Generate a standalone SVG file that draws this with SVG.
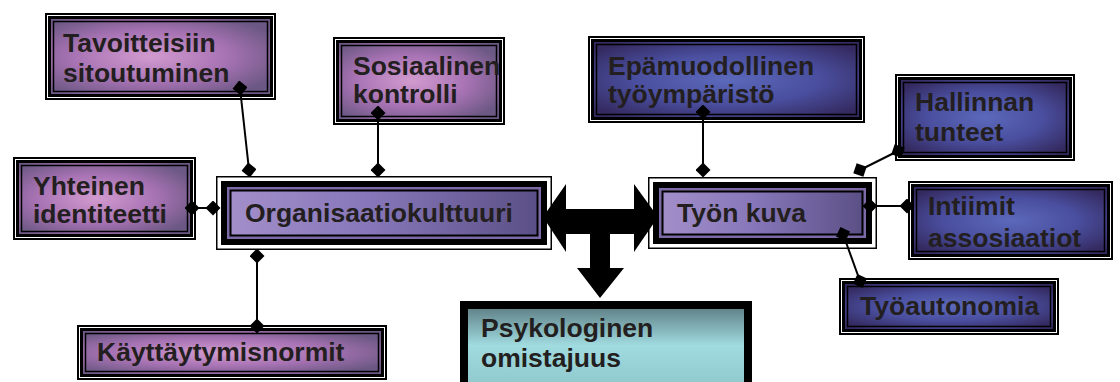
<svg xmlns="http://www.w3.org/2000/svg" width="1120" height="382" viewBox="0 0 1120 382">
<defs>
<radialGradient id="gp" cx="45%" cy="50%" r="65%">
<stop offset="0%" stop-color="#d29bcf"/>
<stop offset="55%" stop-color="#a873b4"/>
<stop offset="100%" stop-color="#6c5884"/>
</radialGradient>
<radialGradient id="gb" cx="50%" cy="50%" r="65%">
<stop offset="0%" stop-color="#5c69bb"/>
<stop offset="55%" stop-color="#4a4e9e"/>
<stop offset="100%" stop-color="#342a60"/>
</radialGradient>
<linearGradient id="gm" x1="0" y1="0" x2="1" y2="0">
<stop offset="0%" stop-color="#a28ec9"/>
<stop offset="45%" stop-color="#8777ba"/>
<stop offset="100%" stop-color="#5b5086"/>
</linearGradient>
<linearGradient id="gc" x1="0" y1="0" x2="0" y2="1">
<stop offset="0%" stop-color="#5b7b81"/>
<stop offset="45%" stop-color="#a0dbe0"/>
<stop offset="100%" stop-color="#8cc4c9"/>
</linearGradient>
<marker id="dia" viewBox="0 0 10 10" refX="5" refY="5" markerWidth="15" markerHeight="15" markerUnits="userSpaceOnUse" orient="auto">
<path d="M0,5 L5,0 L10,5 L5,10 Z" fill="#000"/>
</marker>
</defs>
<style>
.o{fill:#fff;stroke:#000;stroke-width:2}
.b{stroke:#000;stroke-width:3}
.i{stroke:#000;stroke-width:1.5}
.mo{fill:#fff;stroke:#000;stroke-width:1.5}
.mb{fill:#7c6aa6;stroke:#000;stroke-width:6}
.mi{fill:url(#gm);stroke:#000;stroke-width:2}
.p{fill:url(#gp)}
.bl{fill:url(#gb)}
text{font-family:"Liberation Sans",Arial,sans-serif;font-weight:bold;font-size:26.5px;fill:#231f20}
.c{fill:none;stroke:#000;stroke-width:2;marker-start:url(#dia);marker-end:url(#dia)}
</style>
<rect width="1120" height="382" fill="#fff"/>
<g id="tavoitteisiin">
<rect class="o" x="46" y="14" width="229" height="85"/>
<rect class="b p" x="49.5" y="17.5" width="222" height="78"/>
<rect class="i p" x="53.5" y="21.5" width="214" height="70"/>
<text x="63" y="52">Tavoitteisiin</text>
<text x="63" y="82">sitoutuminen</text>
</g>
<g id="sosiaalinen">
<rect class="o" x="334" y="38" width="170" height="86"/>
<rect class="b p" x="337.5" y="41.5" width="163" height="79"/>
<rect class="i p" x="341.5" y="45.5" width="155" height="71"/>
<text x="353" y="75">Sosiaalinen</text>
<text x="353" y="103">kontrolli</text>
</g>
<g id="epamuodollinen">
<rect class="o" x="589" y="37" width="275" height="85"/>
<rect class="b bl" x="592.5" y="40.5" width="268" height="78"/>
<rect class="i bl" x="596.5" y="44.5" width="260" height="70"/>
<text x="608" y="75">Epämuodollinen</text>
<text x="608" y="103">työympäristö</text>
</g>
<g id="hallinnan">
<rect class="o" x="896" y="75" width="178" height="85"/>
<rect class="b bl" x="899.5" y="78.5" width="171" height="78"/>
<rect class="i bl" x="903.5" y="82.5" width="163" height="70"/>
<text x="915" y="111">Hallinnan</text>
<text x="915" y="141">tunteet</text>
</g>
<g id="intiimit">
<rect class="o" x="909" y="182" width="203" height="77"/>
<rect class="b bl" x="912.5" y="185.5" width="196" height="70"/>
<rect class="i bl" x="916.5" y="189.5" width="188" height="62"/>
<text x="928" y="215">Intiimit</text>
<text x="928" y="247">assosiaatiot</text>
</g>
<g id="tyoautonomia">
<rect class="o" x="840" y="279" width="218" height="55"/>
<rect class="b bl" x="843.5" y="282.5" width="211" height="48"/>
<rect class="i bl" x="847.5" y="286.5" width="203" height="40"/>
<text x="860" y="315">Työautonomia</text>
</g>
<g id="yhteinen">
<rect class="o" x="14" y="158" width="181" height="81"/>
<rect class="b p" x="17.5" y="161.5" width="174" height="74"/>
<rect class="i p" x="21.5" y="165.5" width="166" height="66"/>
<text x="33" y="195">Yhteinen</text>
<text x="33" y="223">identiteetti</text>
</g>
<g id="kayttaytymisnormit">
<rect class="o" x="78" y="326" width="308" height="53"/>
<rect class="b p" x="81.5" y="329.5" width="301" height="46"/>
<rect class="i p" x="85.5" y="333.5" width="293" height="38"/>
<text x="97" y="361">Käyttäytymisnormit</text>
</g>
<g id="organisaatiokulttuuri">
<rect class="mo" x="216.75" y="176.75" width="334.5" height="72.5"/>
<rect class="mb" x="224" y="184" width="320" height="58"/>
<rect class="mi" x="230.5" y="190.5" width="307" height="45"/>
<text x="245" y="222">Organisaatiokulttuuri</text>
</g>
<g id="tyonkuva">
<rect class="mo" x="648.75" y="177.75" width="227.5" height="70.5"/>
<rect class="mb" x="656" y="185" width="213" height="56"/>
<rect class="mi" x="662.5" y="191.5" width="200" height="43"/>
<text x="677" y="222">Työn kuva</text>
</g>
<g id="psykologinen">
<rect x="464" y="305" width="284" height="90" fill="url(#gc)" stroke="#000" stroke-width="8"/>
<text x="481" y="337">Psykologinen</text>
<text x="481" y="367">omistajuus</text>
</g>
<g id="connectors">
<path class="c" d="M240,88 L249,170"/>
<path class="c" d="M378,113 L378,170"/>
<path class="c" d="M192,208 L213,208"/>
<path class="c" d="M257,256 L257,326"/>
<path class="c" d="M703,112 L703,170"/>
<path class="c" d="M898,151 L860,170"/>
<path class="c" d="M870,206 L907,206"/>
<path class="c" d="M843,234 L860,281"/>
<path d="M543,217 L566,184 L566,209 L634,209 L634,184 L658,217 L634,252 L634,234 L610,234 L610,268 L624,268 L600,298 L577,268 L590,268 L590,234 L566,234 L566,252 Z" fill="#000"/>
</g>
</svg>
